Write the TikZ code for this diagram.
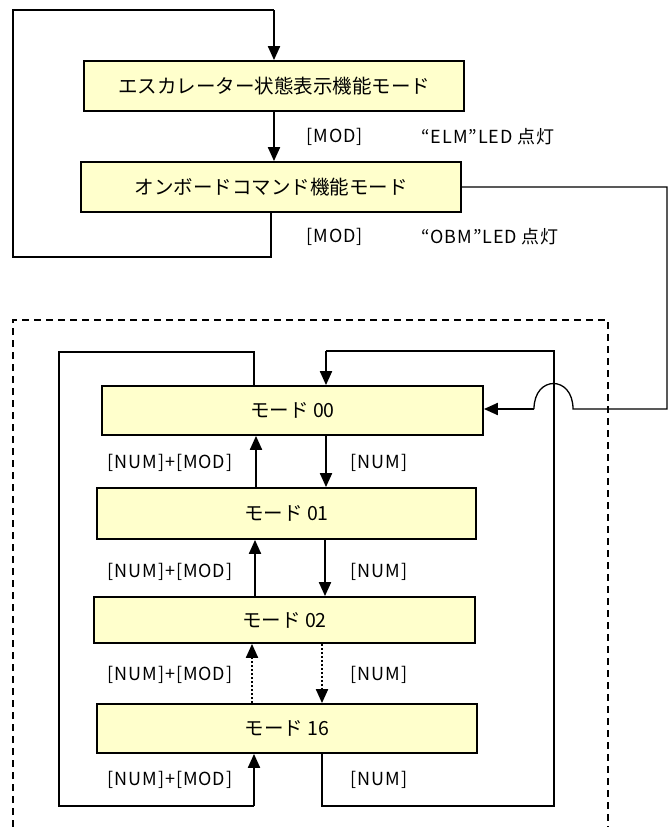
\documentclass[tikz,border=0pt]{standalone}
\usepackage{fontspec}
\setmainfont{Noto Sans CJK JP}
\newfontfamily\lblfont[LetterSpace=5]{Noto Sans CJK JP}
\usetikzlibrary{arrows.meta}
\definecolor{boxfill}{HTML}{FFFFCC}
\tikzset{
  modebox/.style={draw=black, line width=1.8pt, fill=boxfill, minimum height=50pt, inner sep=0pt, font=\fontsize{19.5}{22}\selectfont},
  arr/.style={line width=2pt, -{Triangle[length=14pt,width=12pt]}},
  darr/.style={line width=2pt, dotted, -{Triangle[length=14pt,width=12pt]}},
  loopline/.style={line width=1.3pt},
  lbl/.style={inner sep=0pt, font=\lblfont\fontsize{18}{20}\selectfont}
}
\begin{document}
\begin{tikzpicture}[x=1pt,y=-1pt]
\useasboundingbox (0,0) rectangle (670,827);
% top boxes
\node[modebox, minimum width=380pt] (b1) at (274,86) {エスカレーター状態表示機能モード};
\node[modebox, minimum width=380pt] (b2) at (271,187) {オンボードコマンド機能モード};
% mode boxes
\node[modebox, minimum width=381pt, minimum height=49pt] (m00) at (292.5,410.5) {モード 00};
\node[modebox, minimum width=379pt, minimum height=51pt] (m01) at (286.5,513.5) {モード 01};
\node[modebox, minimum width=381pt, minimum height=46pt] (m02) at (284.5,620) {モード 02};
\node[modebox, minimum width=380pt, minimum height=49pt] (m16) at (287,728.5) {モード 16};
% coordinates
\coordinate (lt) at (13,10);
\coordinate (lb) at (13,257);
\coordinate (up) at (256,0);
\coordinate (dn) at (326,0);
\coordinate (ltop) at (59,352);
\coordinate (lbot) at (59,806);
\coordinate (lend) at (254,806);
\coordinate (rtop) at (554,351);
\coordinate (rbot) at (554,806);
\coordinate (fr1) at (667,187);
\coordinate (fr2) at (667,409);
\coordinate (ja) at (573,409);
\coordinate (jb) at (534,409);
% dashed frame
\draw[line width=1.3pt, dash pattern=on 7pt off 5pt] (13,827) -- (13,320) -- (608,320) -- (608,827);
% top loop
\draw[loopline] (b2.south) |- (lb) -- (lt) -- (lt -| b1.north);
\draw[arr] (lt -| b1.north) -- (b1.north);
\draw[arr] (b1.south) -- (b1.south |- b2.north);
% connection to mode 00 with jump
\draw[loopline] (b2.east) -- (fr1) -- (fr2) -- (ja) .. controls (573,375) and (534,375) .. (jb);
\draw[arr] (jb) -- (m00.east |- jb);
% inner left loop
\draw[loopline] (m00.north -| lend) |- (ltop) -- (lbot) -- (lend);
\draw[arr] (lend) -- (lend |- m16.south);
% inner right loop
\draw[loopline] (m16.south -| 322,0) |- (rbot) -- (rtop) -- (rtop -| dn);
\draw[arr] (rtop -| dn) -- (m00.north -| dn);
% chain arrows
\draw[arr] (m01.north -| up) -- (m00.south -| up);
\draw[arr] (m00.south -| dn) -- (m01.north -| dn);
\draw[arr] (m02.north -| 255,0) -- (m01.south -| 255,0);
\draw[arr] (m01.south -| 325,0) -- (m02.north -| 325,0);
\draw[darr] (m16.north -| 252,0) -- (m02.south -| 252,0);
\draw[darr] (m02.south -| 322,0) -- (m16.north -| 322,0);
% labels
\node[lbl] (l1a) at (335,137) {[MOD]};
\node[lbl] (l1b) at (488,137) {“ELM”LED 点灯};
\node[lbl] (l2a) at (335,237) {[MOD]};
\node[lbl] (l2b) at (490,237) {“OBM”LED 点灯};
\node[lbl] (n1a) at (170,463) {[NUM]+[MOD]};
\node[lbl] (n1b) at (379,463) {[NUM]};
\node[lbl] (n2a) at (170,572) {[NUM]+[MOD]};
\node[lbl] (n2b) at (379,572) {[NUM]};
\node[lbl] (n3a) at (170,675) {[NUM]+[MOD]};
\node[lbl] (n3b) at (379,675) {[NUM]};
\node[lbl] (n4a) at (170,780) {[NUM]+[MOD]};
\node[lbl] (n4b) at (379,780) {[NUM]};
\end{tikzpicture}
\end{document}
